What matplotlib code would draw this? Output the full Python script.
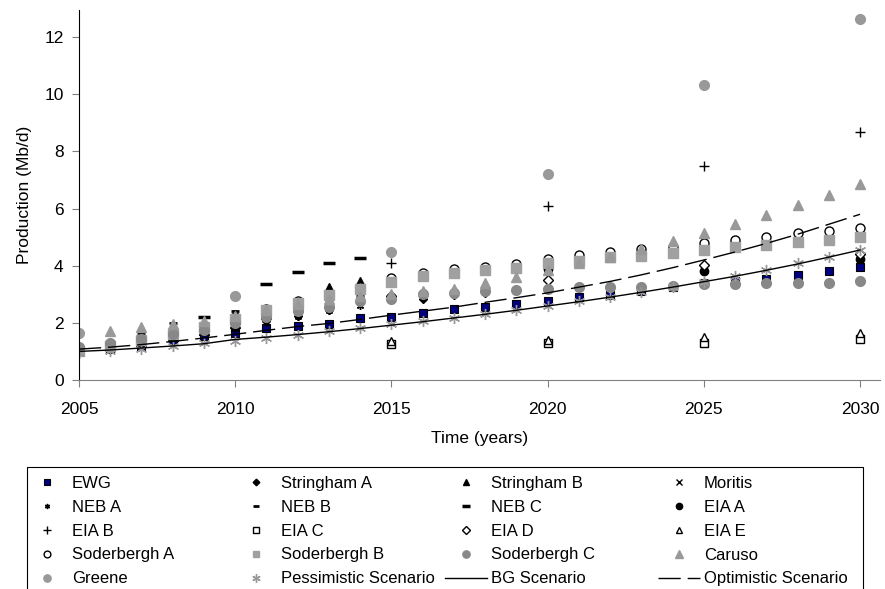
import numpy as np
import matplotlib
matplotlib.use("Agg")
import matplotlib.pyplot as plt
from matplotlib.patches import Rectangle

nan = np.nan

years = list(range(2005, 2031))
years_eia = [2015, 2020, 2025, 2030]
years_greene = [2005, 2010, 2015, 2020, 2025, 2030]

ewg = [1.0, 1.1, 1.2, 1.4, 1.55, 1.65, 1.82, 1.9, 1.96, 2.16, 2.2, 2.36, 2.47,
       2.57, 2.67, 2.77, 2.9, 2.98, 3.1, 3.25, 3.38, 3.47, 3.55, 3.67, 3.8, 3.95]
stringham_a = [1.0, 1.15, 1.3, 1.5, 1.7, 1.85, 2.08, 2.25, 2.45, 2.7, 2.8, 2.85,
               2.97, 3.04, 3.1, 3.2] + [nan] * 10
stringham_b = [1.05, 1.2, 1.35, 1.55, 1.75, 2.0, 2.3, 2.7, 3.22, 3.43] + [nan] * 16
moritis_years = [2010, 2012, 2014, 2020]
moritis = [2.0, 2.35, 2.9, 3.95]
neb_a = [1.05, 1.2, 1.35, 1.5, 1.65, 1.8, 2.0, 2.2, 2.4, 2.6, 2.85] + [nan] * 15
neb_b_years = [2005, 2006, 2007, 2008, 2010, 2012, 2014]
neb_b = [1.15, 1.35, 1.63, 2.0, 2.4, 2.7, 2.95]
neb_c_years = [2009, 2011, 2012, 2013, 2014]
neb_c = [2.22, 3.36, 3.79, 4.1, 4.26]
eia_a = [2.9, 3.9, 3.83, 4.22]
eia_b = [4.1, 6.1, 7.5, 8.68]
eia_c = [1.25, 1.3, 1.3, 1.43]
eia_d = [2.95, 3.5, 4.02, 4.4]
eia_e = [1.35, 1.4, 1.5, 1.65]
soderbergh_a = [1.05, 1.25, 1.45, 1.65, 1.9, 2.2, 2.5, 2.75, 3.0, 3.25, 3.57,
                3.73, 3.87, 3.95, 4.05, 4.25, 4.37, 4.48, 4.57, 4.67, 4.78,
                4.9, 5.0, 5.13, 5.22, 5.33]
soderbergh_b = [1.0, 1.2, 1.4, 1.6, 1.85, 2.15, 2.45, 2.7, 2.97, 3.2, 3.44,
                3.64, 3.75, 3.85, 3.92, 4.1, 4.15, 4.3, 4.35, 4.45, 4.55,
                4.65, 4.72, 4.83, 4.9, 5.0]
soderbergh_c = [1.15, 1.3, 1.45, 1.6, 1.75, 2.0, 2.2, 2.4, 2.55, 2.75, 2.85,
                3.0, 3.05, 3.1, 3.15, 3.2, 3.25, 3.27, 3.27, 3.3, 3.36, 3.36,
                3.38, 3.4, 3.41, 3.45]
caruso = [nan, 1.72, 1.85, 1.95, 2.05, 2.25, 2.45, 2.65, 2.85, 2.95, 3.0, 3.1,
          3.2, 3.4, 3.62, 3.85, 4.1, 4.3, 4.6, 4.86, 5.13, 5.45, 5.77, 6.12,
          6.48, 6.86]
greene = [1.65, 2.95, 4.48, 7.2, 10.33, 12.63]
pessimistic = [0.95, 1.02, 1.1, 1.18, 1.28, 1.38, 1.48, 1.58, 1.7, 1.82, 1.95,
               2.05, 2.18, 2.3, 2.45, 2.6, 2.75, 2.92, 3.08, 3.25, 3.44, 3.65,
               3.85, 4.08, 4.3, 4.55]
bg_scenario = [1.0, 1.05, 1.12, 1.19, 1.27, 1.42, 1.5, 1.59, 1.69, 1.8, 1.92,
               2.04, 2.17, 2.3, 2.44, 2.59, 2.74, 2.9, 3.07, 3.25, 3.44, 3.63,
               3.84, 4.06, 4.3, 4.55]
optimistic = [1.08, 1.15, 1.24, 1.35, 1.47, 1.6, 1.74, 1.87, 1.98, 2.12, 2.27,
              2.41, 2.55, 2.72, 2.88, 3.05, 3.25, 3.45, 3.68, 3.93, 4.2, 4.48,
              4.78, 5.1, 5.45, 5.8]

x_ticks = [2005, 2010, 2015, 2020, 2025, 2030]
y_ticks = [0, 2, 4, 6, 8, 10, 12]

GRAY = '#999999'
DGRAY = '#888888'
STAR = (6, 2, 0)
W, H = 885, 589


def pts(ax, x, y, label, **kw):
    return ax.plot(x, y, linestyle='none', label=label, **kw)[0]


def main():
    plt.rcParams['font.family'] = ['Liberation Sans', 'DejaVu Sans']
    fig = plt.figure(figsize=(W / 100, H / 100), dpi=100)
    ax = fig.add_axes([79 / W, 1 - 380 / H, 801 / W, 370 / H])

    h = []
    h.append(pts(ax, years, ewg, 'EWG', marker='s', ms=6,
                 mfc='#000080', mec='black', mew=0.8))
    h.append(pts(ax, years, stringham_a, 'Stringham A', marker='D', ms=4.5,
                 color='black'))
    h.append(pts(ax, years, stringham_b, 'Stringham B', marker='^', ms=6.5,
                 color='black'))
    h.append(pts(ax, moritis_years, moritis, 'Moritis', marker='x', ms=5,
                 color='black'))
    h.append(pts(ax, years, neb_a, 'NEB A', marker=STAR, ms=5,
                 color='black', mew=1))
    h.append(pts(ax, neb_b_years, neb_b, 'NEB B', marker='_', ms=6,
                 color='black', mew=2))
    h.append(pts(ax, neb_c_years, neb_c, 'NEB C', marker='_', ms=8,
                 color='black', mew=2.5))
    h.append(pts(ax, years_eia, eia_a, 'EIA A', marker='o', ms=6,
                 color='black'))
    h.append(pts(ax, years_eia, eia_b, 'EIA B', marker='+', ms=7,
                 color='black', mew=1))
    h.append(pts(ax, years_eia, eia_c, 'EIA C', marker='s', ms=6,
                 mfc='white', mec='black', mew=1))
    h.append(pts(ax, years_eia, eia_d, 'EIA D', marker='D', ms=5,
                 mfc='white', mec='black', mew=1))
    h.append(pts(ax, years_eia, eia_e, 'EIA E', marker='^', ms=5.5,
                 mfc='white', mec='black', mew=1))
    h.append(pts(ax, years, soderbergh_a, 'Soderbergh A', marker='o', ms=6.5,
                 mfc='white', mec='black', mew=1))
    h.append(pts(ax, years, soderbergh_b, 'Soderbergh B', marker='s', ms=6.5,
                 color='#a0a0a0'))
    h.append(pts(ax, years, soderbergh_c, 'Soderbergh C', marker='o', ms=7,
                 color=DGRAY))
    h.append(pts(ax, years, caruso, 'Caruso', marker='^', ms=7,
                 color=GRAY))
    h.append(pts(ax, years_greene, greene, 'Greene', marker='o', ms=7,
                 color=GRAY))
    h.append(pts(ax, years, pessimistic, 'Pessimistic Scenario', marker=STAR,
                 ms=8, color=GRAY, mew=1))
    h.append(ax.plot(years, bg_scenario, color='black', lw=1,
                     label='BG Scenario')[0])
    h.append(ax.plot(years, optimistic, color='black', lw=1,
                     dashes=(16, 5), label='Optimistic Scenario')[0])

    ax.set_xlim(2005, 2030.64)
    ax.set_ylim(0, 12.95)
    ax.set_xticks(x_ticks)
    ax.set_yticks(y_ticks)
    ax.tick_params(labelsize=12.5, length=5, color='#808080')
    ax.tick_params(axis='y', pad=6)
    ax.tick_params(axis='x', pad=11)
    ax.spines['top'].set_visible(False)
    ax.spines['right'].set_visible(False)
    ax.spines['bottom'].set_color('#808080')
    ax.spines['left'].set_color('black')
    ax.set_xlabel('Time (years)', fontsize=12.5, labelpad=10)
    ax.set_ylabel('Production (Mb/d)', fontsize=12.5, labelpad=9)

    # one legend per column so the columns sit at fixed x like the original
    col_x = [26, 235, 445, 658]
    for c in range(4):
        hc = h[c::4]
        fig.legend(hc, [a.get_label() for a in hc], loc='upper left',
                   bbox_to_anchor=(col_x[c] / W, 1 - 476 / H),
                   frameon=False, fontsize=12, markerscale=0.75,
                   handlelength=2.5, handletextpad=0.25, labelspacing=0.53,
                   borderpad=0, borderaxespad=0)
    fig.add_artist(Rectangle((27 / W, -0.1), 836 / W, 0.1 + 1 - 467 / H,
                             transform=fig.transFigure, fill=False,
                             ec='black', lw=0.8))

    fig.savefig('out.png', dpi=100)


if __name__ == "__main__":
    main()
